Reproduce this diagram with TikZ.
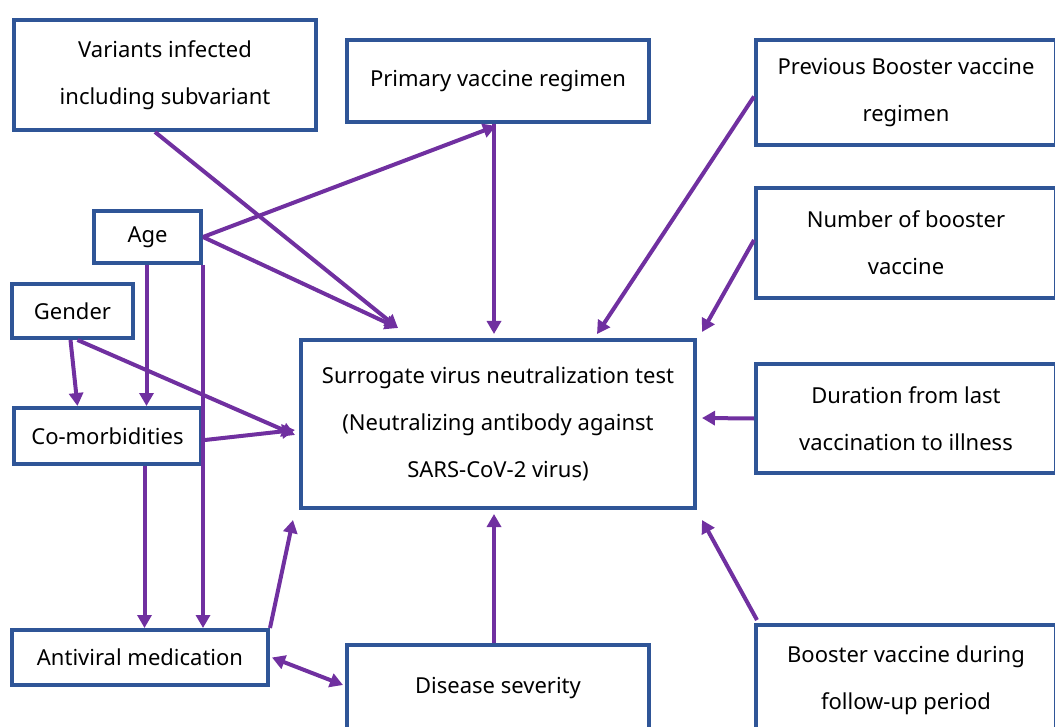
\documentclass[tikz,border=0pt]{standalone}
\usepackage{fontspec}
\setmainfont{Noto Sans}
\usetikzlibrary{arrows.meta,calc}
\definecolor{boxblue}{HTML}{2F5597}
\definecolor{arrpurple}{HTML}{7030A0}
\begin{document}
\begin{tikzpicture}[x=1pt,y=-1pt,
  box/.style={draw=boxblue,line width=4pt,rectangle,inner sep=0pt,align=center,
    font=\fontsize{22}{47}\selectfont,text=black},
  conn/.style={draw=arrpurple,line width=4pt,-{Triangle[length=13pt,width=14pt]}},
  bconn/.style={draw=arrpurple,line width=4pt,{Triangle[length=13pt,width=14pt]}-{Triangle[length=13pt,width=14pt]}}]
\useasboundingbox (0,0) rectangle (1055,727);
\node[box,minimum width=302pt,minimum height=110pt] (var) at (165,75) {Variants infected\\including subvariant};
\node[box,minimum width=302pt,minimum height=82pt] (prim) at (498,81) {Primary vaccine regimen};
\node[box,minimum width=300pt,minimum height=105pt] (prev) at (906,92.5) {Previous Booster vaccine\\regimen};
\node[box,minimum width=300pt,minimum height=110pt] (num) at (906,243) {Number of booster\\vaccine};
\node[box,minimum width=300pt,minimum height=109pt] (dur) at (906,418.5) {Duration from last\\vaccination to illness};
\node[box,minimum width=300pt,minimum height=110pt] (boost) at (906,680) {Booster vaccine during\\follow-up period};
\node[box,minimum width=107pt,minimum height=52pt] (age) at (147.5,237) {Age};
\node[box,minimum width=121pt,minimum height=54pt] (gender) at (72.5,311) {Gender};
\node[box,minimum width=187pt,minimum height=56pt] (comorb) at (107.5,436) {Co-morbidities};
\node[box,minimum width=394pt,minimum height=168pt] (central) at (498,424) {Surrogate virus neutralization test\\(Neutralizing antibody against\\SARS-CoV-2 virus)};
\node[box,minimum width=256pt,minimum height=55pt] (anti) at (140,657.5) {Antiviral medication};
\node[box,minimum width=302pt,minimum height=86pt] (dis) at (498,688) {Disease severity};
% helper coordinates
\coordinate (ageS) at ($(age.south)+(-1,0)$);
\coordinate (comS) at ($(comorb.south)+(37,0)$);
% connectors
\draw[conn] ($(var.south)+(-10,0)$) -- ($(central.north)+(-100,-10)$);
\draw[conn] (age.east) -- ($(prim.south)+(-2,2)$);
\draw[conn] (age.east) -- ($(central.north)+(-100,-10)$);
\draw[conn] ($(prim.south)+(-4,0)$) -- ($(central.north)+(-4,-4)$);
\draw[conn] ($(prev.west)+(0,4)$) -- ($(central.north)+(99,-4)$);
\draw[conn] ($(num.west)+(0,-3)$) -- ($(central.north east)+(5,-6)$);
\draw[conn] (dur.west) -- ($(central.east)+(5,-6)$);
\draw[conn] ($(boost.north west)+(3,-3)$) -- ($(central.south east)+(5,10)$);
\draw[conn] ($(dis.north)+(-4,0)$) -- ($(central.south)+(-4,4)$);
\draw[conn] (anti.north east) -- ($(central.south west)+(-6,10)$);
\draw[bconn] ($(anti.east)+(2,0)$) -- ($(dis.west)+(-2,-3)$);
\draw[conn] (ageS) -- (ageS |- comorb.north);
\draw[conn] (age.south east) -- (age.south east |- anti.north);
\draw[conn] ($(gender.south)+(-2,0)$) -- ($(comorb.north)+(-30,0)$);
\draw[conn] ($(gender.south)+(5,0)$) -- ($(central.west)+(-4,11)$);
\draw[conn] ($(comorb.east)+(2,4)$) -- ($(central.west)+(-4,6)$);
\draw[conn] (comS) -- (comS |- anti.north);
\end{tikzpicture}
\end{document}
